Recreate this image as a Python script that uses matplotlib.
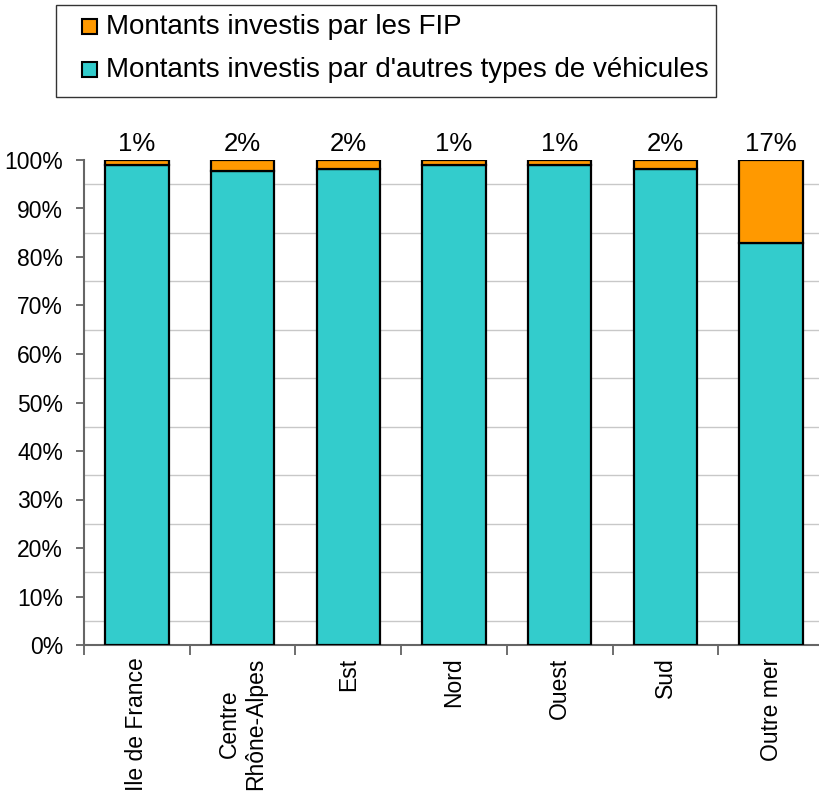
import matplotlib
matplotlib.use("Agg")
import matplotlib.pyplot as plt
import numpy as np
from matplotlib.patches import Rectangle

plt.rcParams['font.family'] = ['Liberation Sans', 'DejaVu Sans']

categories = ["Ile de France", "Centre\nRhône-Alpes", "Est", "Nord", "Ouest", "Sud", "Outre mer"]
fip = [1.0, 2.2, 1.9, 1.0, 1.1, 1.9, 17.2]
autres = [100 - v for v in fip]
labels = ["1%", "2%", "2%", "1%", "1%", "2%", "17%"]
series_names = ["Montants investis par les FIP", "Montants investis par d'autres types de véhicules"]
c_fip = "#FF9900"
c_aut = "#33CCCC"

W, H = 819, 799
fig = plt.figure(figsize=(W / 100, H / 100), dpi=100)
# axes: left 84px, right ~824px, top 160px, bottom 645px
ax = fig.add_axes([84 / W, 1 - 645 / H, 740 / W, (645 - 160) / H])

x = np.arange(len(categories))
ax.bar(x, autres, width=0.6, color=c_aut, edgecolor="black", linewidth=1.6, zorder=3)
ax.bar(x, fip, bottom=autres, width=0.6, color=c_fip, edgecolor="black", linewidth=1.6, zorder=3)

for xi, lab in zip(x, labels):
    ax.annotate(lab, (xi, 100), xytext=(0, 3), textcoords="offset points",
                ha="center", va="bottom", fontsize=18.5, clip_on=False)

ax.set_xlim(-0.5, len(categories) - 0.5)
ax.set_ylim(0, 100)
ax.set_yticks(np.arange(0, 101, 10))
ax.set_yticklabels([f"{v}%" for v in range(0, 101, 10)], fontsize=16.5)
for g in np.arange(5, 100, 10):
    ax.axhline(g, color="#c8c8c8", linewidth=1, zorder=1)

ax.set_xticks(np.arange(-0.5, len(categories), 1.0))
ax.set_xticklabels([])
ax.set_xticks(x, minor=True)
ax.set_xticklabels(categories, minor=True, rotation=90, fontsize=16.5, va="top", ha="center",
                   multialignment="center", linespacing=1.2)
ax.tick_params(axis="x", which="minor", length=0, pad=9)
ax.tick_params(axis="x", which="major", length=7, width=1.2, color="#555555", direction="out")
ax.tick_params(axis="y", length=6, width=1.2, color="#555555", direction="out", pad=9)

for s in ["top", "right"]:
    ax.spines[s].set_visible(False)
for s in ["left", "bottom"]:
    ax.spines[s].set_color("#666666")
    ax.spines[s].set_linewidth(1.5)

# legend drawn in figure pixel coordinates
def fx(px):
    return px / W

def fy(py):
    return 1 - py / H

fig.patches.append(Rectangle((fx(56), fy(97)), fx(716) - fx(56), fy(5) - fy(97),
                             transform=fig.transFigure, facecolor="white",
                             edgecolor="#333333", linewidth=1.0, zorder=5))
for row_y, col, name in zip([27, 70], [c_fip, c_aut], series_names):
    fig.patches.append(Rectangle((fx(82), fy(row_y + 7)), fx(97) - fx(82), fy(row_y - 8) - fy(row_y + 7),
                                 transform=fig.transFigure, facecolor=col,
                                 edgecolor="black", linewidth=1.5, zorder=6))
    fig.text(fx(106), fy(row_y), name, fontsize=20, ha="left", va="center", zorder=7)

fig.savefig("out.png", dpi=100)
